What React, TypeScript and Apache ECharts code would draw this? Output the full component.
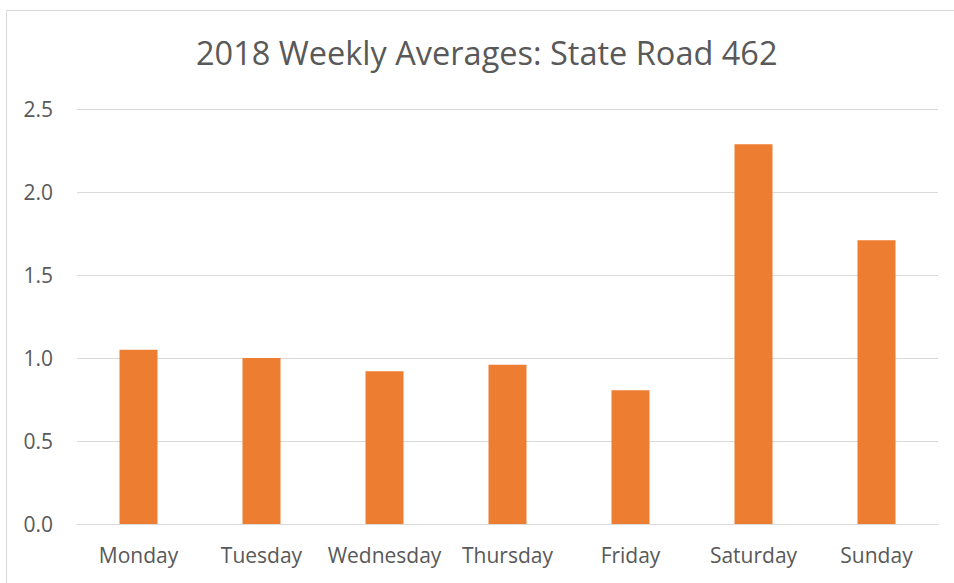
import React, { useEffect, useRef } from "react";
import * as echarts from "echarts";

const categories = ["Monday", "Tuesday", "Wednesday", "Thursday", "Friday", "Saturday", "Sunday"];
const values = [1.05, 1.0, 0.92, 0.96, 0.805, 2.287, 1.71];
const titleText = "2018 Weekly Averages: State Road 462";

export default function App() {
  const ref = useRef<HTMLDivElement>(null);
  useEffect(() => {
    if (!ref.current) return;
    const chart = echarts.init(ref.current, null, { renderer: "svg" });
    const font = "'Open Sans', 'Noto Sans', sans-serif";
    chart.setOption({
      animation: false,
      backgroundColor: "#ffffff",
      title: {
        text: titleText,
        left: 196,
        top: 36,
        padding: 0,
        textStyle: { fontFamily: font, fontSize: 32.5, fontWeight: "normal", color: "#595959" },
      },
      graphic: [
        {
          type: "rect",
          shape: { x: 6.5, y: 10.5, width: 1100, height: 1100 },
          style: { fill: "none", stroke: "#D9D9D9", lineWidth: 1 },
          silent: true,
        },
      ],
      grid: { left: 77, right: 16, top: 109, bottom: 59, containLabel: false },
      xAxis: {
        type: "category",
        data: categories,
        axisLine: { lineStyle: { color: "#D9D9D9", width: 1 } },
        axisTick: { show: false },
        axisLabel: { fontFamily: font, fontSize: 21, color: "#595959", margin: 20, interval: 0 },
      },
      yAxis: {
        type: "value",
        min: 0,
        max: 2.5,
        interval: 0.5,
        axisLine: { show: false },
        axisTick: { show: false },
        splitLine: { lineStyle: { color: "#D9D9D9", width: 1 } },
        axisLabel: {
          fontFamily: font,
          fontSize: 21,
          color: "#595959",
          margin: 24,
          formatter: (v: number) => v.toFixed(1),
        },
      },
      series: [
        {
          type: "bar",
          data: values,
          barWidth: 38,
          itemStyle: { color: "#ED7D31" },
        },
      ],
    });
    return () => chart.dispose();
  }, []);
  return (
    <div
      ref={ref}
      style={{ position: "fixed", left: 0, top: 0, width: 954, height: 583 }}
    />
  );
}
